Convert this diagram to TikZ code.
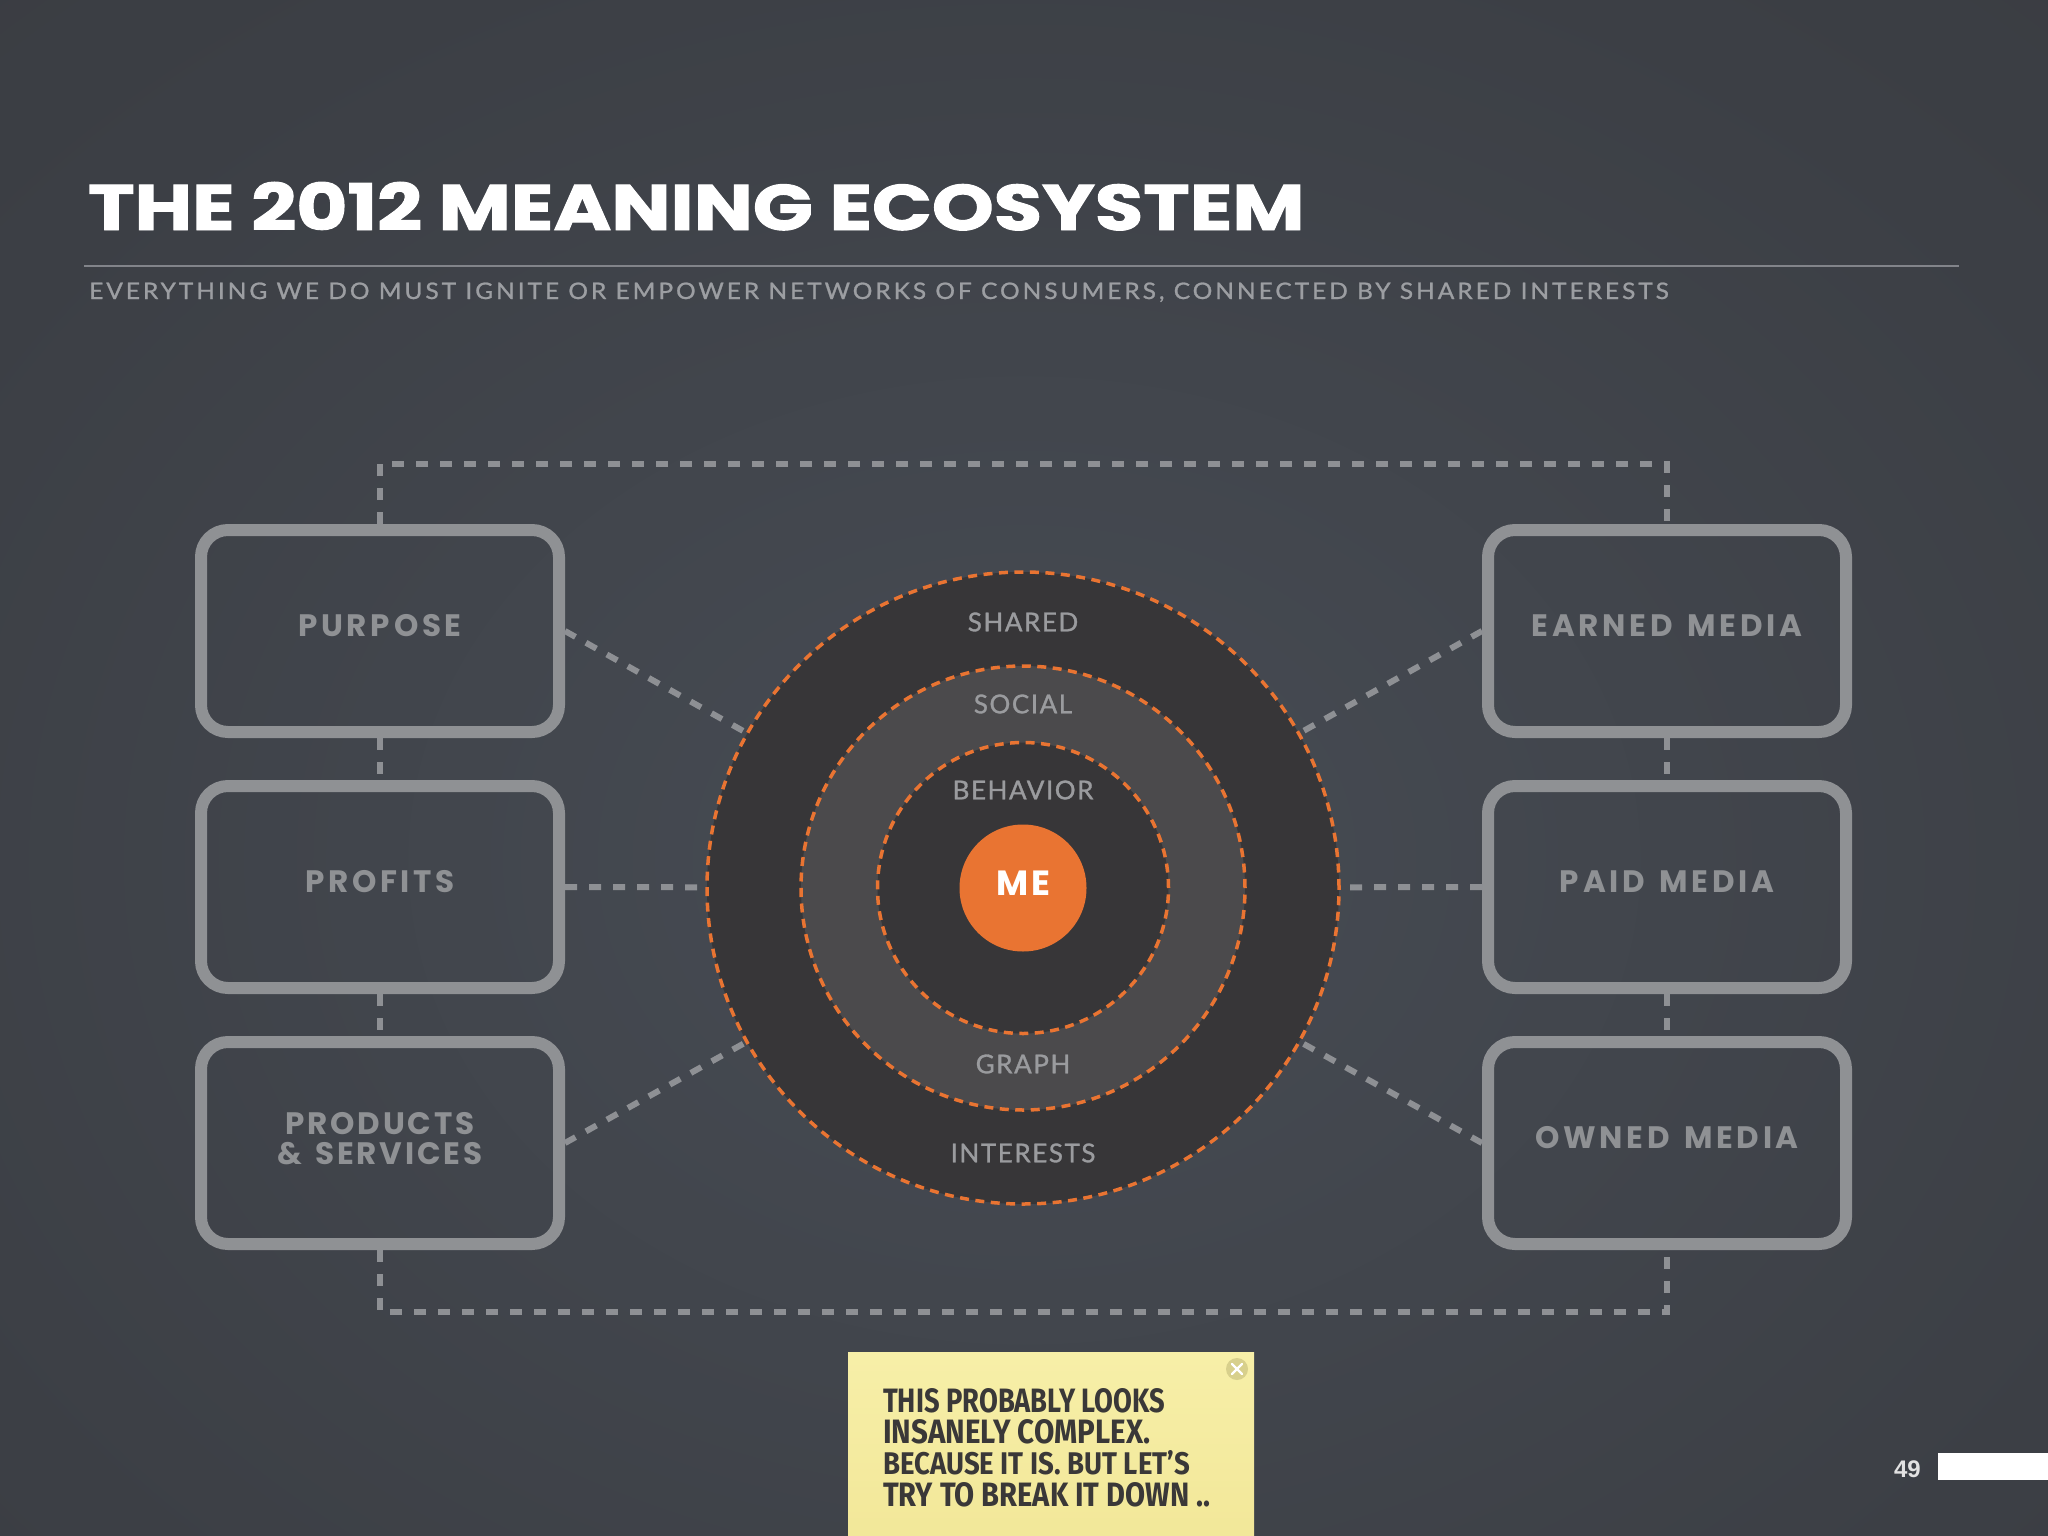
\documentclass[tikz,border=0pt]{standalone}
\usepackage{fontspec}
\usepackage{graphicx}
\setmainfont{Lato}
\newfontfamily\poppins{Poppins}[FakeBold=1.5]
\newfontfamily\boxfont{Poppins}[LetterSpace=12.0, WordSpace=1.4]
\newfontfamily\mefont{Poppins}[LetterSpace=8.0]
\newfontfamily\labfont{Lato}[LetterSpace=6.0, FakeBold=1.2]
\newfontfamily\subfont{Lato}[LetterSpace=12.0, FakeBold=1.0]
\newfontfamily\liber{Liberation Sans}
\newfontfamily\notefont{Fira Sans}
\newcommand\upby[1]{\raisebox{5pt}[\height][\depth]{#1}}

\definecolor{bgdark}{HTML}{33353A}
\definecolor{bgmid}{HTML}{3C3F45}
\definecolor{bglight}{HTML}{474C54}
\definecolor{linegray}{HTML}{8E9094}
\definecolor{boxgray}{HTML}{8F9194}
\definecolor{ringdark}{HTML}{373638}
\definecolor{ringmid}{HTML}{4B4A4C}
\definecolor{meorange}{HTML}{E97432}
\definecolor{labgray}{HTML}{9A9B9E}
\definecolor{subgray}{HTML}{9C9EA2}
\definecolor{rulegray}{HTML}{82848A}
\definecolor{notetop}{HTML}{F7EFA8}
\definecolor{notebot}{HTML}{F1E696}
\definecolor{notetext}{HTML}{3A3838}
\definecolor{closecol}{HTML}{D8D08C}
\definecolor{pagegray}{HTML}{E2E2E2}

\pgfdeclareradialshading{bgshade}{\pgfpoint{0bp}{0bp}}{color(0bp)=(bglight); color(22bp)=(bgmid); color(50bp)=(bgdark)}

\tikzset{
  mbox/.style={draw=boxgray, line width=12pt, rounded corners=27pt,
    minimum width=358pt, minimum height=202pt, inner sep=0pt,
    font={\boxfont\bfseries\fontsize{31}{30}\selectfont}, text=boxgray, align=center},
  conn/.style={draw=linegray, line width=6pt, dash pattern=on 12pt off 12pt},
  ring/.style={circle, draw=meorange, line width=3.5pt, dash pattern=on 9pt off 6.5pt,
    inner sep=0pt, outer sep=0pt},
  clab/.style={inner sep=0pt, text=labgray, font={\labfont\fontsize{26}{26}\selectfont}},
  noteline/.style={anchor=base west, inner sep=0pt, text=notetext, font={\notefont\bfseries}},
}

\begin{document}
\begin{tikzpicture}[x=1pt, y=-1pt]
\useasboundingbox (0,0) rectangle (2048,1536);
\clip (0,0) rectangle (2048,1536);
\fill[bgdark] (0,0) rectangle (2048,1536);
\shade[shading=bgshade] (-376,-240) rectangle (2424,1960);

% title block
\node[anchor=base west, inner sep=0pt, text=white] (title) at (88,230)
  {\resizebox{1216pt}{48pt}{\poppins\bfseries THE 2012 MEANING ECOSYSTEM}};
\coordinate (ruleL) at (84,266);
\coordinate (ruleR) at (1959,266);
\draw[rulegray, line width=2pt] (ruleL) -- (ruleR);
\node[anchor=base west, inner sep=0pt, text=subgray] (subtitle) at (89,299)
  {\resizebox{1579pt}{16.5pt}{\subfont\fontsize{23}{23}\selectfont EVERYTHING WE DO MUST IGNITE OR EMPOWER NETWORKS OF CONSUMERS, CONNECTED BY SHARED INTERESTS}};

% boxes
\node[mbox] (purpose)  at (380,631)  {\upby{PURPOSE}};
\node[mbox] (profits)  at (380,887)  {\upby{PROFITS}};
\node[mbox] (products) at (380,1143) {\addfontfeature{LetterSpace=9.0}\begin{tabular}{@{}c@{}}PRODUCTS\\[-2pt]\& SERVICES\end{tabular}};
\node[mbox] (earned)   at (1667,631)  {\upby{EARNED MEDIA}};
\node[mbox] (paid)     at (1667,887)  {\upby{PAID MEDIA}};
\node[mbox] (owned)    at (1667,1143) {\upby{OWNED MEDIA}};

% circles
\node[ring, fill=ringdark, minimum size=632pt] (outer)  at (1023,888) {};
\node[ring, fill=ringmid,  minimum size=444pt] (middle) at (1023,888) {};
\node[ring, fill=ringdark, minimum size=291pt] (inner)  at (1023,888) {};
\node[circle, fill=meorange, minimum size=127pt, inner sep=0pt, text=white,
  font={\mefont\bfseries\fontsize{35}{35}\selectfont}] (me) at (1023,888) {\upby{ME}};

\node[clab] (shared)    at (1023,622)  {SHARED};
\node[clab] (social)    at (1023,704)  {SOCIAL};
\node[clab] (behavior)  at (1023,790)  {BEHAVIOR};
\node[clab] (graph)     at (1023,1064) {GRAPH};
\node[clab] (interests) at (1023,1153) {INTERESTS};

% connectors
\coordinate (ytop) at (0,464);
\coordinate (ybot) at (0,1312);
\draw[conn] (purpose.north) -- (purpose.north |- ytop) -| (earned.north);
\draw[conn] (products.south) -- (products.south |- ybot) -| (owned.south);
\draw[conn] (purpose.south) -- (profits.north);
\draw[conn] (profits.south) -- (products.north);
\draw[conn] (earned.south) -- (paid.north);
\draw[conn] (paid.south) -- (owned.north);
\draw[conn] (purpose.east) -- (outer);
\draw[conn] (profits.east) -- (outer);
\draw[conn] (products.east) -- (outer);
\draw[conn] (earned.west) -- (outer);
\draw[conn] (paid.west) -- (outer);
\draw[conn] (owned.west) -- (outer);

% sticky note
\node[anchor=north west, top color=notetop, bottom color=notebot, minimum width=406pt,
  minimum height=220pt, inner sep=0pt] (note) at (848,1352) {};
\node[circle, fill=closecol, minimum size=22pt, inner sep=0pt] (close) at (1237,1369) {};
\draw[white, line width=2.2pt, line cap=round] (close.center) +(-5,-5) -- +(5,5)
  (close.center) +(-5,5) -- +(5,-5);
\node[noteline] (n1) at (883,1412) {\resizebox{282pt}{24pt}{THIS PROBABLY LOOKS}};
\node[noteline] (n2) at (883,1443) {\resizebox{267pt}{24pt}{INSANELY COMPLEX.}};
\node[noteline] (n3) at (883,1474) {\resizebox{307pt}{24pt}{BECAUSE IT IS. BUT LET’S}};
\node[noteline] (n4) at (883,1506) {\resizebox{327pt}{24pt}{TRY TO BREAK IT DOWN ..}};

% page number
\node[anchor=base east, inner sep=0pt, text=pagegray,
  font={\liber\bfseries\fontsize{24}{24}\selectfont}] (pnum) at (1921,1477) {49};
\fill[white] (1938,1453) rectangle (2048,1480);
\end{tikzpicture}
\end{document}
